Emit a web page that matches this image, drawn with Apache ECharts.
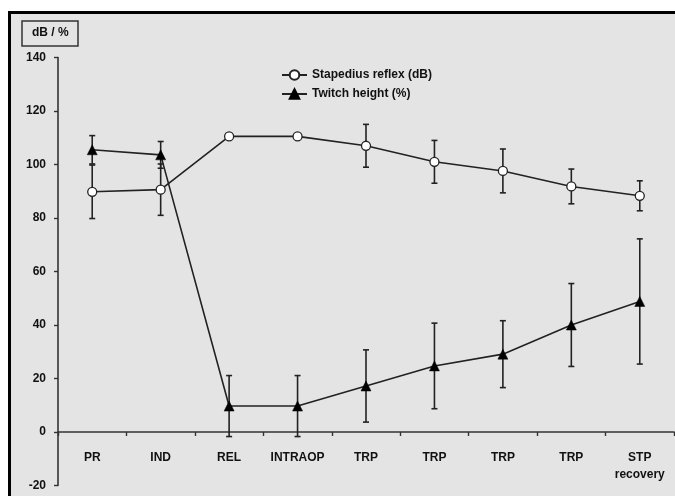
<!DOCTYPE html>
<html>
<head>
<meta charset="utf-8">
<script src="https://cdn.jsdelivr.net/npm/echarts@6/dist/echarts.min.js"></script>
<style>
  html, body { margin: 0; padding: 0; background: #fff; }
  #frame {
    position: absolute; left: 8px; top: 11px;
    border-top: 3px solid #000; border-left: 3px solid #000;
    background: #e4e4e4;
  }
  #chart { width: 664px; height: 482px; }
</style>
</head>
<body>
<div id="frame"><div id="chart"></div></div>
<script>
  // time points
  var categories = ['PR', 'IND', 'REL', 'INTRAOP', 'TRP', 'TRP', 'TRP', 'TRP', 'STP\nrecovery'];
  // stapedius reflex (dB), mean and SD
  var stapedius = [89.8, 90.6, 110.5, 110.5, 107, 101, 97.6, 91.8, 88.3];
  var stapediusSd = [10, 9.6, null, null, 8, 8, 8.2, 6.5, 5.6];
  // twitch height (%), mean and SD
  var twitch = [105.5, 103.6, 9.7, 9.7, 17.2, 24.7, 29.1, 40, 48.8];
  var twitchSd = [5.3, 5, 11.4, 11.4, 13.5, 16, 12.5, 15.5, 23.4];
  var yTicks = [-20, 0, 20, 40, 60, 80, 100, 120, 140];

  var ink = '#222';
  var font = 'Arial, "Liberation Sans", sans-serif';

  function errorData(mean, sd) {
    var out = [];
    mean.forEach(function (m, i) {
      if (sd[i] != null) out.push([i, m - sd[i], m + sd[i]]);
    });
    return out;
  }

  function renderError(params, api) {
    var x = api.value(0);
    var lo = api.coord([x, api.value(1)]);
    var hi = api.coord([x, api.value(2)]);
    var w = 3;
    var st = { stroke: ink, lineWidth: 1.6 };
    return {
      type: 'group',
      children: [
        { type: 'line', shape: { x1: lo[0], y1: lo[1], x2: hi[0], y2: hi[1] }, style: st },
        { type: 'line', shape: { x1: lo[0] - w, y1: lo[1], x2: lo[0] + w, y2: lo[1] }, style: st },
        { type: 'line', shape: { x1: hi[0] - w, y1: hi[1], x2: hi[0] + w, y2: hi[1] }, style: st }
      ]
    };
  }

  var chart = echarts.init(document.getElementById('chart'));
  var option = {
    animation: false,
    backgroundColor: '#e4e4e4',
    title: {
      text: 'dB / %',
      left: 11, top: 7,
      padding: [6, 10, 7, 10],
      borderColor: '#333', borderWidth: 1.5,
      textStyle: { fontFamily: font, fontSize: 12, fontWeight: 'bold', color: '#111' }
    },
    legend: {
      orient: 'vertical',
      left: 265, top: 50,
      itemWidth: 25, itemHeight: 12, itemGap: 7,
      textStyle: { fontFamily: font, fontSize: 12, fontWeight: 'bold', color: '#111' },
      data: ['Stapedius reflex (dB)', 'Twitch height (%)']
    },
    grid: { left: 47, right: 1, top: 43.5, bottom: 10.5, outerBoundsMode: 'none' },
    xAxis: {
      type: 'category',
      data: categories,
      axisLine: { onZero: true, lineStyle: { color: '#333', width: 1.6 } },
      axisTick: { show: true, length: 4, lineStyle: { color: '#333', width: 1.4 } },
      axisLabel: {
        show: true, margin: -36, interval: 0,
        fontFamily: font, fontSize: 12, fontWeight: 'bold', color: '#111', lineHeight: 17
      }
    },
    yAxis: {
      type: 'value',
      min: -20, max: 140, interval: 20,
      axisLine: { show: true, lineStyle: { color: '#333', width: 1.6 } },
      axisTick: { show: true, length: 4, lineStyle: { color: '#333', width: 1.4 } },
      splitLine: { show: false },
      axisLabel: {
        margin: 12,
        fontFamily: font, fontSize: 12, fontWeight: 'bold', color: '#111',
        formatter: function (v) { return yTicks.indexOf(v) >= 0 ? String(v) : ''; }
      }
    },
    series: [
      {
        type: 'custom', name: 'sdStapedius', z: 1,
        renderItem: renderError, data: errorData(stapedius, stapediusSd)
      },
      {
        type: 'custom', name: 'sdTwitch', z: 1,
        renderItem: renderError, data: errorData(twitch, twitchSd)
      },
      {
        name: 'Stapedius reflex (dB)', type: 'line', z: 3,
        data: stapedius,
        symbol: 'circle', symbolSize: 9,
        itemStyle: { color: '#fff', borderColor: ink, borderWidth: 1.3 },
        lineStyle: { color: ink, width: 1.6 }
      },
      {
        name: 'Twitch height (%)', type: 'line', z: 3,
        data: twitch,
        symbol: 'triangle', symbolSize: 10,
        itemStyle: { color: '#000', borderColor: '#000', borderWidth: 0.5 },
        lineStyle: { color: ink, width: 1.6 }
      }
    ]
  };
  chart.setOption(option);
</script>
</body>
</html>
